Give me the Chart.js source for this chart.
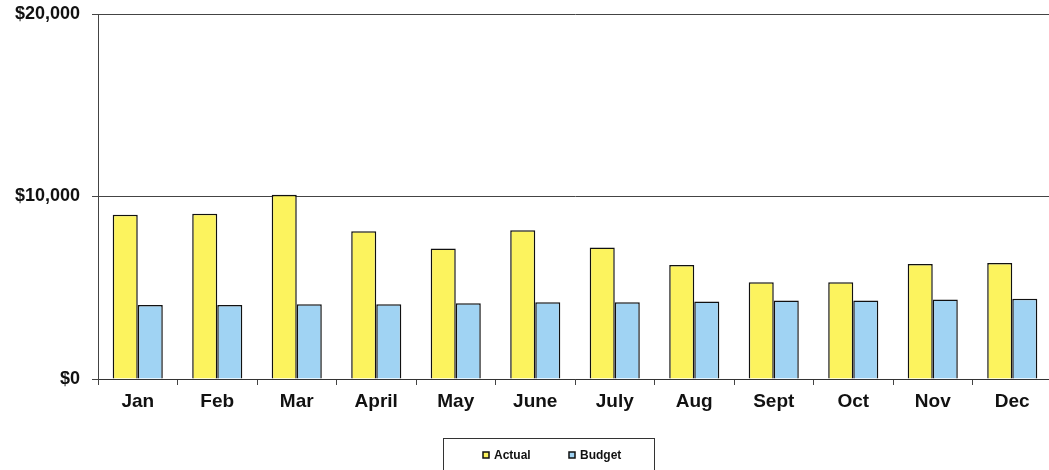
<!DOCTYPE html>
<html>
<head>
<meta charset="utf-8">
<script src="https://cdn.jsdelivr.net/npm/chart.js@4"></script>
<style>
    html, body { margin: 0; padding: 0; background: #fff; overflow: hidden; }
    #wrap { width: 1049px; height: 470px; overflow: hidden; }
</style>
</head>
<body>
<div id="wrap"><canvas id="barChart" width="1052" height="470"></canvas></div>
<script>
const months = ['Jan', 'Feb', 'Mar', 'April', 'May', 'June', 'July', 'Aug', 'Sept', 'Oct', 'Nov', 'Dec'];
const actual = [9000, 9050, 10100, 8100, 7150, 8150, 7200, 6250, 5300, 5300, 6300, 6350];
const budget = [4050, 4050, 4100, 4100, 4150, 4200, 4200, 4250, 4300, 4300, 4350, 4400];
const yTicks = [0, 10000, 20000];

document.addEventListener('DOMContentLoaded', function () {
    const ctx = document.getElementById('barChart').getContext('2d');

    // legend drawn by hand so it can sit in its bordered box
    const boxLegend = {
        id: 'boxLegend',
        afterDraw(chart) {
            const c = chart.ctx;
            c.save();
            c.strokeStyle = '#333';
            c.lineWidth = 1;
            c.strokeRect(443.5, 438.5, 211, 40);
            c.font = 'bold 12px "Liberation Sans", Arial, sans-serif';
            c.textBaseline = 'middle';
            const xs = [483, 569];
            chart.data.datasets.forEach(function (ds, i) {
                c.fillStyle = ds.backgroundColor;
                c.fillRect(xs[i], 452, 6, 6);
                c.strokeStyle = '#111';
                c.lineWidth = 1.5;
                c.strokeRect(xs[i], 452, 6, 6);
                c.fillStyle = '#111';
                c.fillText(ds.label, xs[i] + 11, 456);
            });
            c.restore();
        }
    };

    new Chart(ctx, {
        type: 'bar',
        data: {
            labels: months,
            datasets: [{
                label: 'Actual',
                data: actual,
                backgroundColor: '#FCF35E',
                borderColor: '#111',
                borderWidth: 1.5,
                categoryPercentage: 0.63,
                barPercentage: 1
            }, {
                label: 'Budget',
                data: budget,
                backgroundColor: '#A0D3F3',
                borderColor: '#111',
                borderWidth: 1.5,
                categoryPercentage: 0.63,
                barPercentage: 1
            }]
        },
        options: {
            responsive: false,
            animation: false,
            layout: { padding: { top: 14, right: 0, bottom: 31, left: 0 } },
            plugins: {
                legend: { display: false },
                tooltip: { enabled: false }
            },
            scales: {
                x: {
                    grid: { offset: true, drawOnChartArea: false, drawTicks: true, tickLength: 6, color: '#444' },
                    border: { display: true, color: '#333', width: 1 },
                    ticks: {
                        color: '#111',
                        padding: 5,
                        font: { family: '"Liberation Sans", Arial, sans-serif', size: 19, weight: 'bold' }
                    },
                    afterFit: function (scale) { scale.height = 60; }
                },
                y: {
                    min: 0,
                    max: 20000,
                    afterBuildTicks: function (scale) {
                        scale.ticks = yTicks.map(function (v) { return { value: v }; });
                    },
                    grid: { color: '#444', lineWidth: 1, tickLength: 6 },
                    border: { display: true, color: '#444', width: 1 },
                    ticks: {
                        color: '#111',
                        padding: 12,
                        font: { family: '"Liberation Sans", Arial, sans-serif', size: 18, weight: 'bold' },
                        callback: function (v) { return '$' + v.toLocaleString('en-US'); }
                    },
                    afterFit: function (scale) {
                        scale.width = 98;
                        scale.paddingTop = 0;
                        scale.paddingBottom = 0;
                    }
                }
            }
        },
        plugins: [boxLegend]
    });
});
</script>
</body>
</html>
